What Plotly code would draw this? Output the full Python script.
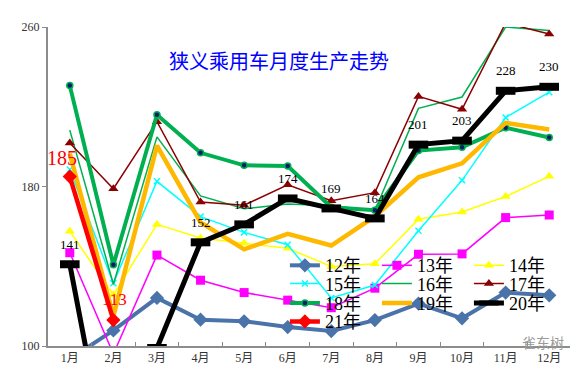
import plotly.graph_objects as go

months = ["1月", "2月", "3月", "4月", "5月", "6月", "7月", "8月", "9月", "10月", "11月", "12月"]

y12 = [93.5, 107.8, 124.1, 113.2, 112.4, 109.5, 107.5, 113.0, 121.3, 113.9, 126.8, 125.4]
y13 = [146.8, 96.0, 145.6, 133.0, 126.8, 123.0, 119.2, 129.0, 146.0, 146.2, 164.4, 165.7]
y14 = [157.6, 125.7, 161.0, 154.2, 151.5, 149.0, 139.9, 141.2, 163.6, 167.2, 175.0, 185.1]
y15 = [188.5, 131.5, 182.6, 164.9, 157.0, 150.8, 124.1, 130.6, 157.8, 183.1, 214.6, 227.3]
y16 = [208.3, 131.0, 204.9, 175.3, 168.8, 171.2, 170.4, 168.0, 219.2, 224.9, 260.0, 258.2]
y17 = [201.8, 178.9, 212.5, 172.2, 170.6, 180.9, 172.9, 176.9, 225.2, 218.7, 262.0, 256.5]
y18 = [230.6, 140.7, 216.0, 196.9, 190.6, 190.3, 169.6, 168.1, 198.0, 199.7, 209.5, 204.6]
y19 = [196.5, 115.0, 200.5, 162.0, 148.5, 156.2, 150.4, 165.0, 184.6, 191.6, 211.9, 208.6]
y20 = [141, 27, 99, 152, 161, 174, 169, 164, 201, 203, 228, 230]
y21 = [185, 113]

title_text = "狭义乘用车月度生产走势"
y_ticks = [100, 180, 260]

SERIF = "Liberation Serif, Times New Roman, Noto Sans CJK SC"

fig = go.Figure()

def add(name, y, color, width, legend, symbol=None, msize=0, mline=None, mcolor=None):
    marker = dict(symbol=symbol or "circle", size=msize, color=mcolor or color)
    if mline:
        marker["line"] = mline
    fig.add_trace(go.Scatter(
        x=months[:len(y)], y=y, name=name, mode="lines+markers" if symbol else "lines",
        line=dict(color=color, width=width),
        marker=marker, legend=legend, hoverinfo="skip"))

add("12年", y12, "#4A73AA", 4, "legend", "diamond", 11)
add("13年", y13, "#FF00FF", 1.5, "legend", "square", 9)
add("14年", y14, "#FFFF00", 1.5, "legend", "triangle-up", 9)
add("15年", y15, "#00FFFF", 1.5, "legend2", "x-thin", 6, mline=dict(color="#00FFFF", width=1.5))
add("16年", y16, "#00B050", 1.5, "legend2")
add("17年", y17, "#8B0000", 1.5, "legend2", "triangle-up", 9)
add("18年", y18, "#00B050", 4, "legend3", "circle", 6, mline=dict(color="#00B050", width=1.5), mcolor="#0A1A6E")
add("19年", y19, "#FFB800", 4.5, "legend3")
add("20年", y20, "#000000", 5, "legend3", "line-ew", 14, mline=dict(color="#000000", width=8))
add("21年", y21, "#FF0000", 4.5, "legend4", "diamond", 11)

annotations = []
for m, v in zip(months, y20):
    if v >= 100:
        annotations.append(dict(x=m, y=v, xref="x", yref="y", text=str(v), showarrow=False,
                                yshift=20, font=dict(family=SERIF, size=13, color="#000000")))
for i, (m, v) in enumerate(zip(months, y21)):
    annotations.append(dict(x=m, y=v, xref="x", yref="y", text=str(v), showarrow=False,
                            xshift=-8 if i == 0 else 1, yshift=19 if i == 0 else 21,
                            font=dict(family=SERIF, size=20 if i == 0 else 17, color="#FF0000")))
annotations.append(dict(x=0.4426, y=0.947, xref="paper", yref="paper", text=title_text,
                        showarrow=False, font=dict(family="Noto Sans CJK SC", size=20, color="#0000FF")))
annotations.append(dict(x=0.99, y=0.012, xref="paper", yref="paper", text="雀东树",
                        xanchor="right", yanchor="middle", showarrow=False,
                        font=dict(family="Noto Sans CJK SC", size=14, color="#9a9a9a")))

legend_common = dict(orientation="h", xanchor="left", yanchor="middle", x=0.453,
                     bgcolor="rgba(0,0,0,0)", borderwidth=0, entrywidth=47, entrywidthmode="pixels",
                     font=dict(family=SERIF, size=18, color="#000000"), tracegroupgap=0)

fig.update_layout(
    width=578, height=369,
    margin=dict(l=40, r=15, t=15, b=26),
    paper_bgcolor="white", plot_bgcolor="white",
    showlegend=True,
    legend=dict(legend_common, y=0.252),
    legend2=dict(legend_common, y=0.195),
    legend3=dict(legend_common, y=0.134),
    legend4=dict(legend_common, y=0.076),
    annotations=annotations,
    xaxis=dict(type="category", range=[-0.5, 11.5], showgrid=False, zeroline=False,
               showline=True, linecolor="#8c8c8c", linewidth=1.5,
               ticks="inside", ticklen=4, tickcolor="#8c8c8c", tickson="boundaries",
               tickfont=dict(family=SERIF, size=12, color="#333333")),
    yaxis=dict(range=[100, 260], tickvals=y_ticks, showgrid=False, zeroline=False,
               showline=True, linecolor="#8c8c8c", linewidth=2,
               ticks="outside", ticklen=4, tickcolor="#8c8c8c",
               tickfont=dict(family=SERIF, size=12, color="#333333")),
)

fig.write_html("out.html")
